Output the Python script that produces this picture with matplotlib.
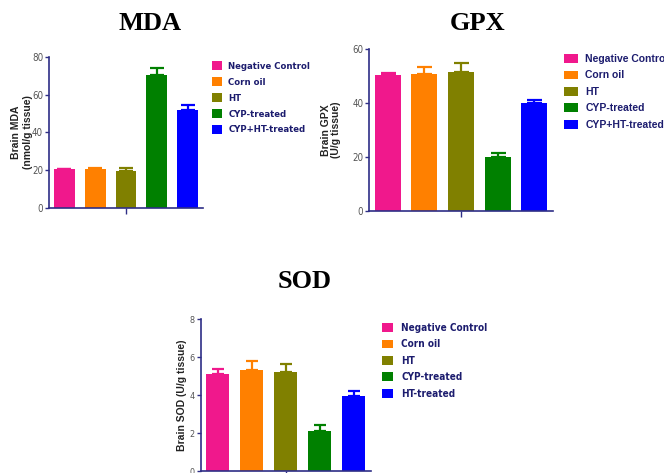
import matplotlib
matplotlib.use("Agg")
import matplotlib.pyplot as plt
from matplotlib.patches import Patch
from matplotlib import font_manager

# ---------------- data ----------------
groups = ["Negative Control", "Corn oil", "HT", "CYP-treated", "CYP+HT-treated"]
sod_groups = ["Negative Control", "Corn oil", "HT", "CYP-treated", "HT-treated"]
colors = ["#F0188C", "#FF8000", "#808000", "#008000", "#0000FF"]

mda_values = [20.6, 20.4, 19.7, 70.2, 51.9]
mda_err = [0.2, 0.7, 1.4, 3.8, 2.6]
mda_ticks = [0, 20, 40, 60, 80]

gpx_values = [50.4, 51.0, 51.6, 20.2, 40.0]
gpx_err = [0.7, 2.5, 3.2, 1.3, 1.2]
gpx_ticks = [0, 20, 40, 60]

sod_values = [5.1, 5.3, 5.22, 2.12, 3.95]
sod_err = [0.3, 0.5, 0.42, 0.3, 0.27]
sod_ticks = [0, 2, 4, 6, 8]

# ---------------- fonts ----------------
flist = font_manager.fontManager.ttflist
avail = {f.name for f in flist}
sans = "Liberation Sans" if "Liberation Sans" in avail else "DejaVu Sans"
serif = "Liberation Serif" if "Liberation Serif" in avail else "DejaVu Serif"
narrow_stretch = "normal"
narrow = sans
if "Liberation Sans Narrow" in avail:
    narrow = "Liberation Sans Narrow"
elif any(f.name == "DejaVu Sans" and "ondensed" in f.fname for f in flist):
    narrow = "DejaVu Sans"
    narrow_stretch = "condensed"

navy = "#2E2E86"
legend_text = "#1C1C6E"

W, H = 664, 473
fig = plt.figure(figsize=(W / 100, H / 100), dpi=100)


def px_axes(l, r, t, b):
    return fig.add_axes([l / W, 1 - b / H, (r - l) / W, (b - t) / H])


def draw_panel(ax, values, errs, ticks, ylabel, label_x, title, title_xy,
               labels, leg_xy, leg_font, leg_kw, bar_w, capsize, linespacing,
               tick_size):
    x = list(range(len(values)))
    for i, (v, e, c) in enumerate(zip(values, errs, colors)):
        ax.errorbar([i], [v], yerr=[[0], [e]], fmt="none", ecolor=c,
                    elinewidth=1.6, capsize=capsize, capthick=1.6, zorder=1)
    ax.bar(x, values, width=bar_w, color=colors, zorder=2)
    ax.set_xlim(-0.5, len(values) - 0.5)
    ax.set_ylim(0, ticks[-1])
    ax.set_yticks(ticks)
    ax.set_xticks([2])
    ax.set_xticklabels([""])
    for s in ["top", "right"]:
        ax.spines[s].set_visible(False)
    for s in ["left", "bottom"]:
        ax.spines[s].set_color(navy)
        ax.spines[s].set_linewidth(1.2)
    ax.tick_params(axis="y", length=3, width=1, color=navy, pad=1.2,
                   labelsize=tick_size, labelcolor="#555555")
    ax.tick_params(axis="x", length=4, width=1, color=navy)
    for t in ax.get_yticklabels():
        t.set_fontfamily(narrow)
        t.set_fontstretch(narrow_stretch)
    ax.set_ylabel(ylabel, fontfamily=sans, fontweight="bold", fontsize=7.5,
                  color="#222222", linespacing=linespacing)
    ax.yaxis.label.set_va("center")
    ax.yaxis.set_label_coords(label_x, 0.5)
    fig.text(title_xy[0] / W, 1 - title_xy[1] / H, title, ha="center",
             va="center", fontfamily=serif, fontweight="bold", fontsize=19)
    handles = [Patch(facecolor=c, edgecolor="none") for c in colors]
    leg = fig.legend(handles, labels, loc="upper left",
                     bbox_to_anchor=(leg_xy[0] / W, 1 - leg_xy[1] / H),
                     frameon=False, borderpad=0, borderaxespad=0,
                     prop={"family": leg_font[0], "weight": "bold",
                           "size": leg_font[1], "stretch": leg_font[2]},
                     **leg_kw)
    for t in leg.get_texts():
        t.set_color(legend_text)


ax1 = px_axes(49, 203, 56.7, 208)
draw_panel(ax1, mda_values, mda_err, mda_ticks,
           "Brain MDA\n(nmol/g tissue)", (22 - 49) / 154, "MDA", (150, 23),
           groups, (212, 61.5), (narrow, 6.8, narrow_stretch),
           dict(handlelength=1.1, handleheight=1.05, handletextpad=0.64,
                labelspacing=0.66),
           0.67, 5.2, 1.25, 7)

ax2 = px_axes(369.3, 552.7, 49.3, 211)
draw_panel(ax2, gpx_values, gpx_err, gpx_ticks,
           "Brain GPX\n(U/g tissue)", (331 - 369.3) / 183.4, "GPX", (478, 23),
           groups, (564, 54), (sans, 7.5, "normal"),
           dict(handlelength=1.35, handleheight=0.9, handletextpad=0.7,
                labelspacing=0.62),
           0.71, 5.4, 1.0, 7)

ax3 = px_axes(200.7, 370.7, 319.3, 471)
draw_panel(ax3, sod_values, sod_err, sod_ticks,
           "Brain SOD (U/g tissue)", (182 - 200.7) / 170, "SOD", (305, 282),
           sod_groups, (382, 323), (narrow, 7.2, narrow_stretch),
           dict(handlelength=1.1, handleheight=1.0, handletextpad=0.8,
                labelspacing=0.64),
           0.69, 4.4, 1.0, 6.5)

fig.savefig("out.png", dpi=100)
